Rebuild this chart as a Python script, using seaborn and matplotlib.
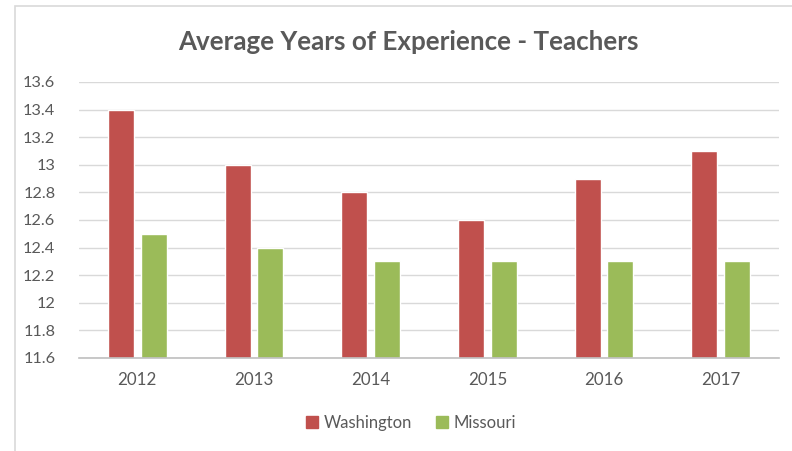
import numpy as np
import pandas as pd
import matplotlib
matplotlib.use("Agg")
import matplotlib.pyplot as plt
import matplotlib.patches as mpatches
from matplotlib.ticker import FuncFormatter, MultipleLocator
import seaborn as sns

years = ["2012", "2013", "2014", "2015", "2016", "2017"]
washington = [13.4, 13.0, 12.8, 12.6, 12.9, 13.1]
missouri = [12.5, 12.4, 12.3, 12.3, 12.3, 12.3]
series_names = ["Washington", "Missouri"]
colors = ["#C0504D", "#9BBB59"]

df = pd.DataFrame({
    "Year": years * 2,
    "Value": washington + missouri,
    "State": [series_names[0]] * len(years) + [series_names[1]] * len(years),
})

sns.set_theme(style="white")
plt.rcParams["font.family"] = ["Lato", "DejaVu Sans"]
text_color = "#595959"

fig = plt.figure(figsize=(7.92, 4.51), dpi=100)
ax = fig.add_axes([79 / 792, 1 - 358 / 451, 700 / 792, 276 / 451])

sns.barplot(data=df, x="Year", y="Value", hue="State", palette=colors,
            width=0.565, gap=0.21, ax=ax, legend=False, saturation=1)

# bars start at axis bottom
for p in ax.patches:
    y0 = 11.6
    h = p.get_y() + p.get_height() - y0
    p.set_y(y0)
    p.set_height(h)

ax.set_ylim(11.6, 13.6)
ax.set_xlim(-0.5, len(years) - 0.5)
ax.yaxis.set_major_locator(MultipleLocator(0.2))
ax.yaxis.set_major_formatter(FuncFormatter(lambda v, _: f"{round(v, 1):g}"))
ax.grid(axis="y", color="#d9d9d9", linewidth=1)
ax.set_axisbelow(True)
for s in ["left", "right", "top"]:
    ax.spines[s].set_visible(False)
ax.spines["bottom"].set_color("#bfbfbf")
ax.spines["bottom"].set_linewidth(1.2)
ax.tick_params(axis="y", length=0, labelsize=11.7, colors=text_color, pad=17)
ax.tick_params(axis="x", length=0, labelsize=12.2, colors=text_color, pad=10)
ax.set_xlabel("")
ax.set_ylabel("")

fig.text(408 / 792, 1 - 42 / 451, "Average Years of Experience - Teachers",
         ha="center", va="center", fontsize=18.7, fontweight="bold", color=text_color)

handles = [mpatches.Patch(color=c, label=n) for c, n in zip(colors, series_names)]
fig.legend(handles=handles, loc="center", bbox_to_anchor=(411 / 792, 1 - 423 / 451),
           ncol=2, frameon=False, fontsize=12, handlelength=0.75, handleheight=0.75,
           handletextpad=0.35, columnspacing=1.4, labelcolor=text_color)

# chart frame
frame = mpatches.Rectangle((15 / 792, -0.1), 1.1, 1 - 6 / 451 + 0.1,
                           transform=fig.transFigure, fill=False,
                           edgecolor="#d9d9d9", linewidth=1.2)
fig.patches.append(frame)

fig.savefig("out.png", dpi=100)
